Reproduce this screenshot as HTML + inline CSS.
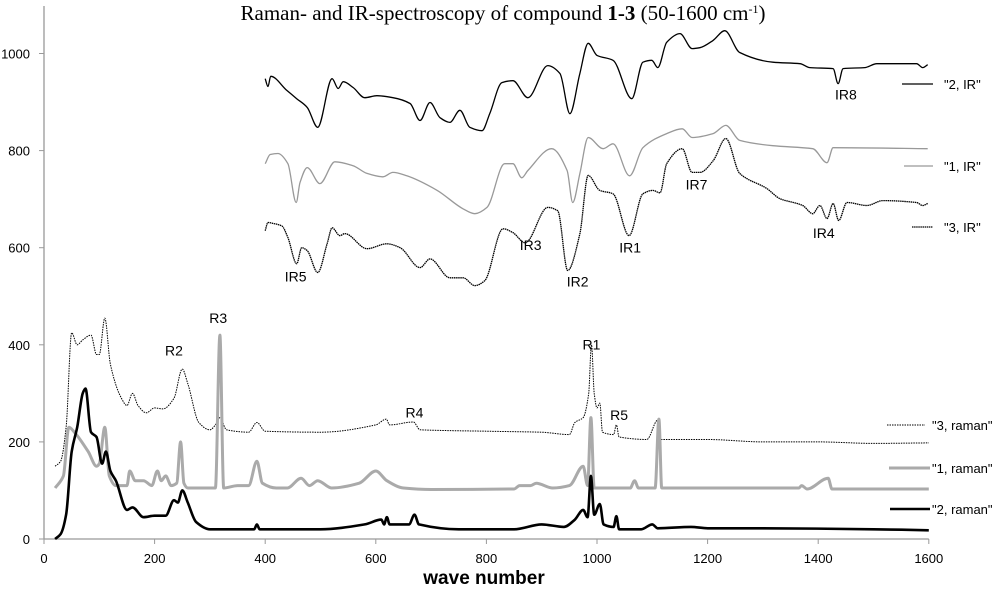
<!DOCTYPE html>
<html><head><meta charset="utf-8"><style>
body{margin:0;background:#fff;width:1000px;height:599px;overflow:hidden}
svg{display:block}
text{font-family:"Liberation Sans",sans-serif}
</style></head><body>
<svg id="chart" width="1000" height="599" viewBox="0 0 1000 599" xmlns="http://www.w3.org/2000/svg">
<text x="503" y="20" text-anchor="middle" style="font-family:'Liberation Serif',serif;font-size:21px">Raman- and IR-spectroscopy of compound <tspan font-weight="bold">1-3</tspan> (50-1600 cm<tspan dy="-7" font-size="12px">-1</tspan><tspan dy="7">)</tspan></text>
<g id="axes"></g>
<g id="series"></g>
<g id="legend"></g>
<g id="annot"></g>
<text x="484" y="584" text-anchor="middle" font-weight="bold" font-size="19px">wave number</text>
</svg>
<script>
const xTicks = [0,200,400,600,800,1000,1200,1400,1600];
const yTicks = [0,200,400,600,800,1000];
const ir2 = [[400,948],[405,932],[410,953],[439,924],[457,907],[476,889],[495,848],[521,948],[532,928],[541,942],[559,930],[580,909],[602,913],[631,909],[662,897],[680,862],[698,899],[716,868],[734,858],[752,883],[770,848],[792,841],[806,876],[828,940],[848,944],[875,909],[911,975],[933,959],[951,876],[969,959],[984,1021],[1000,996],[1029,986],[1063,907],[1083,982],[1099,986],[1110,971],[1126,1023],[1150,1041],[1172,1010],[1186,1012],[1210,1027],[1231,1047],[1258,1002],[1318,982],[1367,979],[1385,971],[1427,969],[1436,938],[1445,969],[1484,971],[1506,979],[1578,979],[1589,971],[1598,977]];
const ir1 = [[400,773],[409,792],[423,794],[441,773],[456,693],[463,734],[476,765],[499,732],[526,777],[559,769],[584,753],[613,746],[631,755],[656,748],[711,718],[758,680],[779,670],[801,683],[833,773],[848,773],[864,744],[875,759],[918,804],[946,759],[956,693],[969,753],[984,827],[1011,804],[1029,814],[1059,748],[1083,806],[1126,835],[1154,845],[1172,827],[1210,835],[1233,852],[1258,821],[1318,810],[1390,804],[1416,775],[1427,806],[1598,804]];
const ir3 = [[400,635],[405,652],[414,650],[430,645],[441,621],[457,567],[466,600],[476,594],[495,549],[512,608],[521,641],[535,625],[544,629],[584,598],[620,608],[644,600],[680,559],[698,577],[734,538],[758,538],[779,522],[797,532],[830,639],[848,631],[870,610],[911,683],[929,676],[947,553],[969,629],[984,749],[1005,718],[1029,711],[1058,625],[1083,711],[1101,718],[1114,713],[1126,773],[1154,804],[1172,755],[1186,755],[1210,779],[1233,825],[1258,753],[1307,722],[1331,701],[1372,687],[1390,670],[1403,687],[1416,660],[1427,691],[1437,656],[1452,693],[1488,687],[1517,697],[1578,693],[1589,687],[1598,691]];
const raman3 = [[20,150],[30,160],[40,230],[50,425],[60,400],[70,410],[85,420],[95,380],[100,380],[110,455],[120,360],[140,290],[150,275],[160,300],[170,275],[185,260],[200,270],[215,268],[235,290],[250,350],[260,320],[280,240],[300,225],[310,235],[318,250],[330,225],[370,220],[385,240],[400,222],[500,220],[600,235],[619,247],[625,235],[668,241],[680,225],[800,222],[900,220],[950,215],[960,240],[975,250],[985,300],[990,400],[995,300],[1000,270],[1005,280],[1010,220],[1030,215],[1035,235],[1040,210],[1090,205],[1110,245],[1115,205],[1200,205],[1300,200],[1400,200],[1500,197],[1600,198]];
const raman1 = [[20,105],[35,130],[45,230],[55,220],[80,180],[95,150],[100,155],[110,230],[118,130],[130,110],[150,110],[155,140],[165,120],[180,120],[195,110],[205,140],[212,120],[220,130],[230,110],[240,115],[247,200],[253,115],[260,105],[310,105],[318,420],[325,105],[350,110],[370,110],[385,160],[395,115],[420,105],[440,105],[465,125],[480,110],[495,120],[520,105],[570,115],[600,140],[620,120],[650,105],[700,102],[850,103],[860,110],[880,110],[890,115],[920,105],[950,110],[975,150],[983,110],[989,250],[995,105],[1060,105],[1068,120],[1075,105],[1105,105],[1112,247],[1117,105],[1200,105],[1365,105],[1370,110],[1380,103],[1418,125],[1425,103],[1600,103]];
const raman2 = [[20,0],[30,10],[40,50],[50,180],[60,230],[70,300],[75,310],[85,220],[95,210],[105,155],[112,180],[120,140],[130,120],[150,60],[160,65],[180,45],[200,48],[220,48],[235,80],[242,75],[250,100],[260,75],[275,35],[300,20],[380,20],[385,30],[390,20],[500,20],[580,30],[610,40],[615,30],[620,45],[625,30],[660,30],[670,50],[678,30],[750,20],[850,20],[900,30],[940,25],[960,40],[975,60],[983,45],[989,130],[995,50],[1005,72],[1012,30],[1030,25],[1035,47],[1040,20],[1080,20],[1100,30],[1110,22],[1170,25],[1200,22],[1300,22],[1500,20],[1600,18]];
const legendNames = ['"2, IR"','"1, IR"','"3, IR"','"3, raman"','"1, raman"','"2, raman"'];
const annotLabels = ['IR8','IR7','IR4','IR1','IR3','IR2','IR5','R3','R2','R1','R4','R5'];
const annotWave = [1450,1180,1410,1060,880,965,455,315,235,990,670,1040];
const annotVal = [905,720,620,590,595,520,530,445,378,390,250,245];

const NS='http://www.w3.org/2000/svg';
const X0=44, XS=0.553, Y0=539, YS=0.4855;
const sx=v=>X0+v*XS, sy=v=>Y0-v*YS;
function mk(tag,parent,attrs){const e=document.createElementNS(NS,tag);for(const k in attrs)e.setAttribute(k,attrs[k]);parent.appendChild(e);return e;}
function monotone(p){
  const n=p.length, d=[], m=[];
  for(let i=0;i<n-1;i++) d.push((p[i+1][1]-p[i][1])/(p[i+1][0]-p[i][0]));
  m[0]=d[0]; m[n-1]=d[n-2];
  for(let i=1;i<n-1;i++){ m[i]=(d[i-1]*d[i]<=0)?0:2/(1/d[i-1]+1/d[i]); }
  let s='M'+p[0][0].toFixed(1)+','+p[0][1].toFixed(1);
  for(let i=0;i<n-1;i++){
    const h=(p[i+1][0]-p[i][0])/3;
    s+=' C'+(p[i][0]+h).toFixed(1)+','+(p[i][1]+m[i]*h).toFixed(1)+' '+(p[i+1][0]-h).toFixed(1)+','+(p[i+1][1]-m[i+1]*h).toFixed(1)+' '+p[i+1][0].toFixed(1)+','+p[i+1][1].toFixed(1);
  }
  return s;
}
const axes=document.getElementById('axes');
let a=mk('line',axes,{x1:X0,y1:6,x2:X0,y2:Y0,stroke:'#999','stroke-width':1.3});


a=mk('line',axes,{x1:X0,y1:Y0,x2:sx(1600),y2:Y0,stroke:'#999','stroke-width':1.3});


xTicks.forEach(t=>{
  const l=mk('line',axes,{x1:sx(t),y1:Y0,x2:sx(t),y2:Y0+5,stroke:'#999'});
  
  
  const tx=mk('text',axes,{x:sx(t),y:Y0+24,'text-anchor':'middle','font-size':'13px'});
  tx.textContent=t;
  
  
});
yTicks.forEach(t=>{
  const l=mk('line',axes,{x1:X0-5,y1:sy(t),x2:X0,y2:sy(t),stroke:'#999'});
  
  
  const tx=mk('text',axes,{x:30,y:sy(t)+5,'text-anchor':'end','font-size':'13px'});
  tx.textContent=t;
  
  
});
const styles=[
 {d:ir2,c:'#000',w:1.3,dash:null,n:'series-2-ir'},
 {d:ir1,c:'#999',w:1.3,dash:null,n:'series-1-ir'},
 {d:ir3,c:'#000',w:1.3,dash:'1.5 0.6',n:'series-3-ir'},
 {d:raman3,c:'#000',w:1,dash:'1.5 1',n:'series-3-raman'},
 {d:raman1,c:'#aaa',w:3,dash:null,n:'series-1-raman'},
 {d:raman2,c:'#000',w:2.6,dash:null,n:'series-2-raman'}];
const ser=document.getElementById('series');
styles.forEach(s=>{
  const pts=s.d.map(q=>[sx(q[0]),sy(q[1])]);
  const p=mk('path',ser,{d:monotone(pts),fill:'none',stroke:s.c,'stroke-width':s.w,'stroke-linejoin':'round'});
  if(s.dash)p.setAttribute('stroke-dasharray',s.dash);
  
  
});
const legY=[84,166,227,425,468,509];
const legX=[902,904,912,887,889,890];
const legX2=[933,933,933,925,930,930];
const lg=document.getElementById('legend');
legendNames.forEach((nm,i)=>{
  const s=styles[i];
  const l=mk('line',lg,{x1:legX[i],y1:legY[i],x2:legX2[i],y2:legY[i],stroke:s.c,'stroke-width':Math.min(s.w,3)});
  if(s.dash)l.setAttribute('stroke-dasharray',s.dash);
  
  
  const t=mk('text',lg,{x:i<3?944:932,y:legY[i]+5,'font-size':'13px'});
  t.textContent=nm;
  
  
});
const an=document.getElementById('annot');
annotLabels.forEach((lb,i)=>{
  const t=mk('text',an,{x:sx(annotWave[i]),y:sy(annotVal[i]),'text-anchor':'middle','font-size':'14px'});
  t.textContent=lb;
  
  
});
</script>
</body></html>
